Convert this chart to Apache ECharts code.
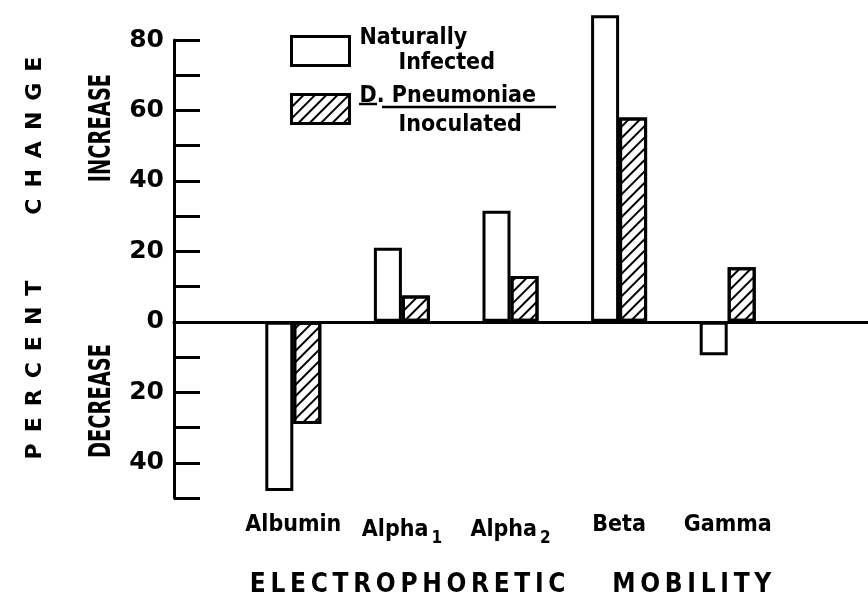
<!DOCTYPE html>
<html>
<head>
<meta charset="utf-8">
<script src="https://cdn.jsdelivr.net/npm/echarts@6/dist/echarts.min.js"></script>
<style>
  html, body { margin: 0; padding: 0; background: #fff; }
  #chart { width: 868px; height: 600px; }
</style>
</head>
<body>
<div id="chart"></div>
<script>
// data
const categories = ['Albumin', 'Alpha1', 'Alpha2', 'Beta', 'Gamma'];
const naturallyInfected = [-48, 21, 31.5, 87, -9.5];
const pneumoniaeInoculated = [-29, 7.5, 13, 58, 15.5];
const yLabelValues = [80, 60, 40, 20, 0, -20, -40];

const FONT = 'DejaVu Sans Condensed';
// y = 80 sits at 40px, y = -50 at 498px; the bar grid runs up to 90 so Beta is not clipped
const gridTop = 40, gridBottom = 102;
const pxPerUnit = (600 - gridTop - gridBottom) / 130;
const barTop = gridTop - 10 * pxPerUnit;

const chart = echarts.init(document.getElementById('chart'));

const hatch = {
  symbol: 'rect',
  color: '#000',
  dashArrayX: [1, 0],
  dashArrayY: [2, 6],
  rotation: -Math.PI / 4
};

const sp = '\u2002';
const spaced = (word, s) => word.split('').join(s);

chart.setOption({
  backgroundColor: '#fff',
  animation: false,
  grid: [
    { left: 239, right: 86, top: barTop, bottom: gridBottom, outerBoundsMode: 'none' },
    { left: 174, right: 0, top: gridTop, bottom: gridBottom, outerBoundsMode: 'none' }
  ],
  legend: {
    left: 285, top: 22, orient: 'vertical',
    icon: 'rect', itemWidth: 58, itemHeight: 29, itemGap: 10,
    itemStyle: { borderWidth: 3, borderColor: '#000' },
    data: ['Naturally Infected', 'D. Pneumoniae Inoculated'],
    formatter: function (name) {
      return name === 'Naturally Infected'
        ? '{a|Naturally}\n{b|Infected}'
        : '{a|D. Pneumoniae}\n{c|Inoculated}';
    },
    textStyle: {
      color: '#000',
      rich: {
        a: { fontFamily: FONT, fontWeight: 'bold', fontSize: 23, lineHeight: 25, padding: [0, 0, 0, 5] },
        b: { fontFamily: FONT, fontWeight: 'bold', fontSize: 23, lineHeight: 25, padding: [0, 0, 0, 44] },
        c: { fontFamily: FONT, fontWeight: 'bold', fontSize: 23, lineHeight: 25, padding: [7, 0, 0, 44] }
      }
    }
  },
  xAxis: [
    {
      type: 'category', gridIndex: 0, data: categories,
      axisLine: { show: false, onZero: false },
      axisTick: { show: false },
      axisLabel: {
        interval: 0, margin: 16, color: '#000', fontFamily: FONT, fontWeight: 'bold', fontSize: 23,
        formatter: function (v) { return v.replace(/(\d)$/, '{sub|$1}'); },
        rich: { sub: { fontFamily: FONT, fontWeight: 'bold', fontSize: 17, padding: [16, 0, 0, 3] } }
      },
      name: spaced('ELECTROPHORETIC', '\u2009') + '\u2003\u2003' + spaced('MOBILITY', '\u2009'),
      nameLocation: 'middle', nameGap: 74,
      nameTextStyle: { color: '#000', fontFamily: FONT, fontWeight: 'bold', fontSize: 26 }
    },
    {
      type: 'value', gridIndex: 1, min: 0, max: 1,
      axisLine: { show: true, onZero: true, lineStyle: { color: '#000', width: 3 } },
      axisTick: { show: false }, axisLabel: { show: false }, splitLine: { show: false }
    }
  ],
  yAxis: [
    {
      type: 'value', gridIndex: 0, min: -50, max: 90, interval: 10,
      show: false, splitLine: { show: false }
    },
    {
      type: 'value', gridIndex: 1, min: -50, max: 80, interval: 10,
      axisLine: { show: true, lineStyle: { color: '#000', width: 3 } },
      axisTick: { show: true, inside: true, length: 26, lineStyle: { color: '#000', width: 3 } },
      splitLine: { show: false },
      axisLabel: {
        margin: 10, color: '#000', fontFamily: 'DejaVu Sans', fontWeight: 'bold', fontSize: 25,
        formatter: function (v) { return yLabelValues.indexOf(v) >= 0 ? String(Math.abs(v)) : ''; }
      }
    }
  ],
  series: [
    {
      name: 'Naturally Infected', type: 'bar', xAxisIndex: 0, yAxisIndex: 0,
      data: naturallyInfected, barWidth: 28, barGap: '0%',
      itemStyle: { color: '#fff', borderColor: '#000', borderWidth: 3 }
    },
    {
      name: 'D. Pneumoniae Inoculated', type: 'bar', xAxisIndex: 0, yAxisIndex: 0,
      data: pneumoniaeInoculated, barWidth: 28, barGap: '0%',
      itemStyle: { color: '#fff', borderColor: '#000', borderWidth: 3, decal: hatch }
    }
  ],
  graphic: [
    {
      type: 'text', x: 35, y: 258, rotation: Math.PI / 2,
      style: {
        text: spaced('PERCENT', sp) + '\u2003\u2003\u2003' + spaced('CHANGE', sp), fill: '#000',
        font: 'bold 22px "DejaVu Sans"', align: 'center', verticalAlign: 'middle'
      }
    },
    {
      type: 'text', x: 102, y: 128, rotation: Math.PI / 2, scaleX: 0.72,
      style: { text: 'INCREASE', fill: '#000', font: 'bold 30px "DejaVu Sans Condensed"', align: 'center', verticalAlign: 'middle' }
    },
    {
      type: 'text', x: 102, y: 401, rotation: Math.PI / 2, scaleX: 0.72,
      style: { text: 'DECREASE', fill: '#000', font: 'bold 30px "DejaVu Sans Condensed"', align: 'center', verticalAlign: 'middle' }
    },
    { type: 'line', shape: { x1: 359, y1: 104, x2: 377, y2: 104 }, style: { stroke: '#000', lineWidth: 2.5 } },
    { type: 'line', shape: { x1: 382, y1: 107, x2: 556, y2: 107 }, style: { stroke: '#000', lineWidth: 2.5 } }
  ]
});
</script>
</body>
</html>
